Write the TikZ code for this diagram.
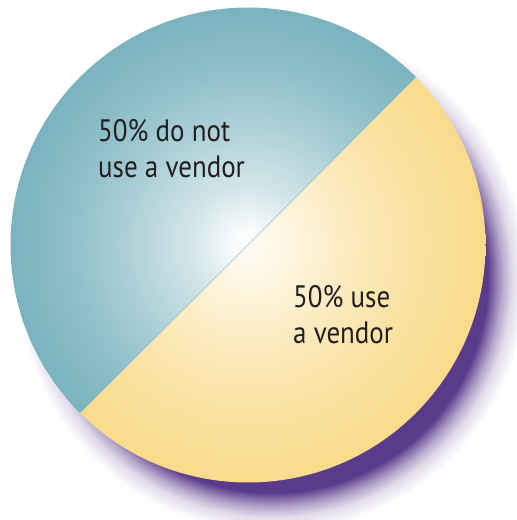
\documentclass[tikz,border=0pt]{standalone}
\usepackage{fontspec}
\setmainfont{PT Sans}[FakeStretch=0.87]
\usepackage{tikz}

\definecolor{pieteal}{HTML}{7AB3BE}
\definecolor{pieyellow}{HTML}{F9DB8C}
\definecolor{shadowpurple}{HTML}{5A3A8A}
\definecolor{labeltext}{HTML}{231F20}
% 25bp is the rim of the shaded circle
\pgfdeclareradialshading{tealglow}{\pgfpoint{0bp}{0bp}}{%
  color(0bp)=(white); color(1.5bp)=(white!96!pieteal); color(6.25bp)=(white!66!pieteal);
  color(12.5bp)=(white!39!pieteal); color(18.75bp)=(white!16!pieteal);
  color(25bp)=(pieteal); color(50bp)=(pieteal)}
\pgfdeclareradialshading{yellowglow}{\pgfpoint{0bp}{0bp}}{%
  color(0bp)=(white!94!pieyellow); color(6.25bp)=(white!64!pieyellow);
  color(12.5bp)=(white!37!pieyellow); color(18.75bp)=(white!15!pieyellow);
  color(25bp)=(pieyellow); color(50bp)=(pieyellow)}
\pgfdeclareradialshading{shadowglow}{\pgfpoint{0bp}{0bp}}{%
  color(0bp)=(shadowpurple); color(21.1bp)=(shadowpurple);
  color(21.7bp)=(shadowpurple!75!white); color(22.5bp)=(shadowpurple!45!white);
  color(23.5bp)=(shadowpurple!18!white); color(25bp)=(white); color(50bp)=(white)}

\tikzset{
  pielabel/.style={anchor=base west, inner sep=0pt, align=left, text=labeltext,
    font=\fontsize{31}{36}\selectfont}
}

\begin{document}
\begin{tikzpicture}[x=1pt,y=1pt]
\useasboundingbox (0,0) rectangle (517,520);

% drop shadow
\shade[shading=shadowglow] (272,243) circle (255.5);

% the two halves
\begin{scope}
  \clip (248,275) -- ++(45:237.5) arc (45:225:237.5) -- cycle;
  \shade[shading=tealglow] (248,275) circle (237.5);
\end{scope}
\begin{scope}
  \clip (248,275) -- ++(225:237.5) arc (225:405:237.5) -- cycle;
  \shade[shading=yellowglow] (248,275) circle (237.5);
\end{scope}
\draw[pieteal!80, line width=0.6pt] (248,275) ++(45:237.5) -- ++(225:475);

\node[pielabel] (notuse) at (98,342) {50\% do not\\use a vendor};
\node[pielabel] (douse) at (293,176) {50\% use\\a vendor};
\end{tikzpicture}
\end{document}
